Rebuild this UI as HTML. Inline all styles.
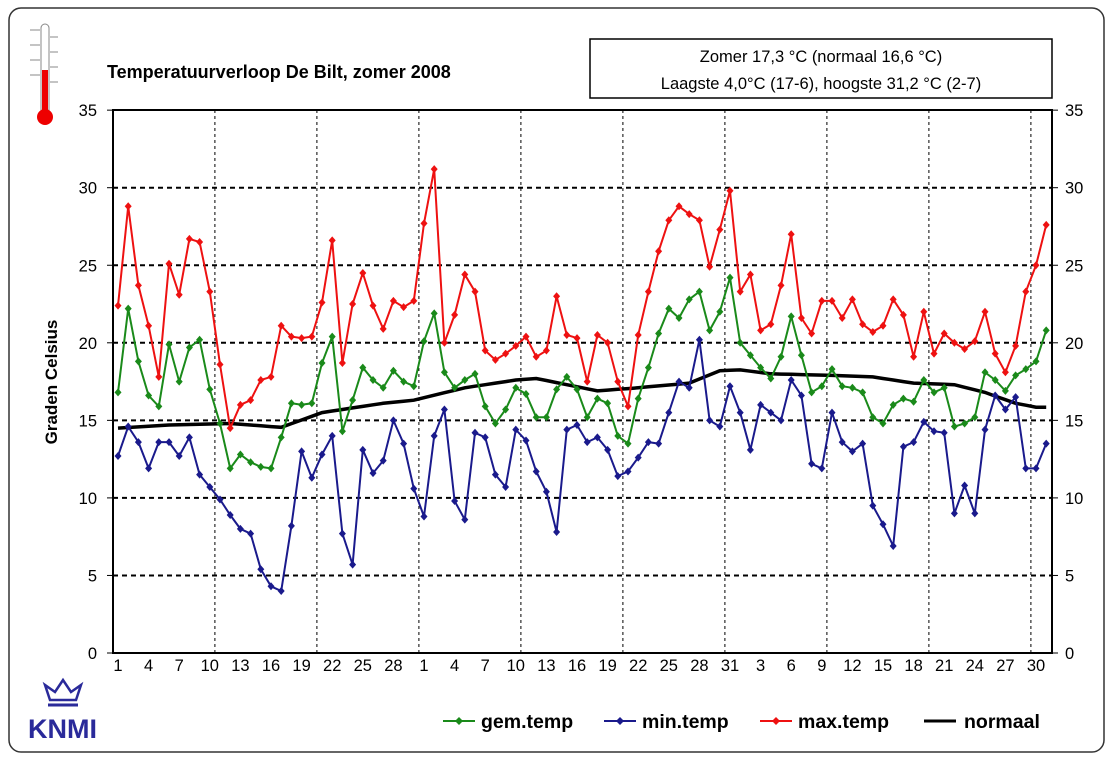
<!DOCTYPE html>
<html><head><meta charset="utf-8"><style>
html,body{margin:0;padding:0;background:#fff}
svg{display:block;font-family:"Liberation Sans",Arial,sans-serif}
</style></head><body>
<svg id="s" width="1113" height="760" xmlns="http://www.w3.org/2000/svg">
<rect x="9" y="8" width="1095" height="744" rx="12" fill="#fff" stroke="#333" stroke-width="1.5"/>
<g id="grid"></g>
<rect x="113" y="110" width="939" height="543" fill="none" stroke="#000" stroke-width="2"/>
<g id="series"></g>
<text x="107" y="78" font-size="18" font-weight="bold">Temperatuurverloop De Bilt, zomer 2008</text>
<rect x="590" y="39" width="462" height="59" fill="#fff" stroke="#000" stroke-width="1.5"/>
<text x="821" y="62" font-size="16.5" text-anchor="middle">Zomer 17,3 °C (normaal 16,6 °C)</text>
<text x="821" y="89" font-size="16.5" text-anchor="middle">Laagste 4,0°C (17-6), hoogste  31,2 °C (2-7)</text>
<text transform="translate(57,382) rotate(-90)" font-size="17" font-weight="bold" text-anchor="middle">Graden Celsius</text>
<!-- thermometer -->
<rect x="41" y="24" width="8" height="92" rx="4" fill="#fff" stroke="#888" stroke-width="1"/>
<rect x="42" y="70" width="6" height="45" fill="#e00"/>
<circle cx="45" cy="117" r="8" fill="#e00"/>
<g stroke="#888" stroke-width="1"><line x1="30" y1="30" x2="40" y2="30"/><line x1="30" y1="45" x2="40" y2="45"/><line x1="30" y1="60" x2="40" y2="60"/><line x1="30" y1="75" x2="40" y2="75"/><line x1="50" y1="37" x2="58" y2="37"/><line x1="50" y1="52" x2="58" y2="52"/><line x1="50" y1="67" x2="58" y2="67"/><line x1="50" y1="82" x2="58" y2="82"/></g>
<!-- KNMI logo -->
<g fill="#2a2a9a" stroke="#2a2a9a">
<path d="M50 700 L45 685 L55 692 L63 680 L71 692 L81 685 L76 700 Z" fill="none" stroke-width="2.5"/>
<line x1="48" y1="705" x2="78" y2="705" stroke-width="3"/>
</g>
<text x="28" y="738" font-size="27" font-weight="bold" fill="#2a2a9a" stroke="none">KNMI</text>
<!-- legend -->
<g font-size="19.5" font-weight="bold">
<line x1="443" y1="721" x2="475" y2="721" stroke="#1a8a1a" stroke-width="2"/><path d="M459 717 L463 721 L459 725 L455 721Z" fill="#1a8a1a"/>
<text x="481" y="728">gem.temp</text>
<line x1="604" y1="721" x2="636" y2="721" stroke="#1a1a8c" stroke-width="2"/><path d="M620 717 L624 721 L620 725 L616 721Z" fill="#1a1a8c"/>
<text x="642" y="728">min.temp</text>
<line x1="760" y1="721" x2="792" y2="721" stroke="#ee1111" stroke-width="2"/><path d="M776 717 L780 721 L776 725 L772 721Z" fill="#ee1111"/>
<text x="798" y="728">max.temp</text>
<line x1="924" y1="721" x2="956" y2="721" stroke="#000" stroke-width="3"/>
<text x="964" y="728">normaal</text>
</g>
</svg>
<script>
var NS="http://www.w3.org/2000/svg";
function el(p,t,a,txt){var e=document.createElementNS(NS,t);for(var k in a)e.setAttribute(k,a[k]);if(txt!==undefined)e.textContent=txt;p.appendChild(e);return e;}
function X(i){return 118+10.2*i;}
function Y(v){return 653-15.51*v;}
var g=document.getElementById('grid'),s=document.getElementById('series'),svg=document.getElementById('s');
for(var v=5;v<35;v+=5)el(g,'line',{x1:113,x2:1052,y1:Y(v),y2:Y(v),stroke:'#000','stroke-width':2,'stroke-dasharray':'5,4'});
for(var k=0;k<9;k++){var x=X(9.5+10*k);el(g,'line',{x1:x,x2:x,y1:110,y2:653,stroke:'#000','stroke-width':1,'stroke-dasharray':'3,3'});}
for(var v=0;v<=35;v+=5){el(svg,'text',{x:97,y:Y(v)+6,'font-size':16.5,'text-anchor':'end'},v);el(svg,'text',{x:1065,y:Y(v)+6,'font-size':16.5},v);
 el(svg,'line',{x1:107,x2:113,y1:Y(v),y2:Y(v),stroke:'#000'});el(svg,'line',{x1:1052,x2:1058,y1:Y(v),y2:Y(v),stroke:'#000'});}
var labs=[];for(var d=1;d<=30;d+=3)labs.push([d-1,d]);for(var d=1;d<=31;d+=3)labs.push([30+d-1,d]);for(var d=3;d<=31;d+=3)labs.push([61+d-1,d]);
labs.forEach(function(l){el(svg,'text',{x:X(l[0]),y:671,'font-size':16.5,'text-anchor':'middle'},l[1]);});
var mx=[22.4,28.8,23.7,21.1,17.8,25.1,23.1,26.7,26.5,23.3,18.6,14.5,16.0,16.3,17.6,17.8,21.1,20.4,20.3,20.4,22.6,26.6,18.7,22.5,24.5,22.4,20.9,22.7,22.3,22.7,
27.7,31.2,20.0,21.8,24.4,23.3,19.5,18.9,19.3,19.8,20.4,19.1,19.5,23.0,20.5,20.3,17.5,20.5,20.0,17.5,15.9,20.5,23.3,25.9,27.9,28.8,28.3,27.9,24.9,27.3,29.8,
23.3,24.4,20.8,21.2,23.7,27.0,21.6,20.6,22.7,22.7,21.6,22.8,21.2,20.7,21.1,22.8,21.8,19.1,22.0,19.3,20.6,20.0,19.6,20.1,22.0,19.3,18.1,19.8,23.3,25.0,27.6];
var gm=[16.8,22.2,18.8,16.6,15.9,19.9,17.5,19.7,20.2,17.0,14.8,11.9,12.8,12.3,12.0,11.9,13.9,16.1,16.0,16.1,18.7,20.4,14.3,16.3,18.4,17.6,17.1,18.2,17.5,17.2,
20.1,21.9,18.1,17.1,17.6,18.0,15.9,14.8,15.7,17.1,16.7,15.2,15.2,17.0,17.8,17.0,15.2,16.4,16.1,14.0,13.5,16.4,18.4,20.6,22.2,21.6,22.8,23.3,20.8,22.0,24.2,
20.0,19.2,18.4,17.7,19.1,21.7,19.2,16.8,17.2,18.3,17.2,17.1,16.8,15.2,14.8,16.0,16.4,16.2,17.6,16.8,17.1,14.6,14.8,15.2,18.1,17.6,16.9,17.9,18.3,18.8,20.8];
var mn=[12.7,14.6,13.6,11.9,13.6,13.6,12.7,13.9,11.5,10.7,9.9,8.9,8.0,7.7,5.4,4.3,4.0,8.2,13.0,11.3,12.8,14.0,7.7,5.7,13.1,11.6,12.4,15.0,13.5,10.6,
8.8,14.0,15.7,9.8,8.6,14.2,13.9,11.5,10.7,14.4,13.7,11.7,10.4,7.8,14.4,14.7,13.6,13.9,13.1,11.4,11.7,12.6,13.6,13.5,15.5,17.5,17.1,20.2,15.0,14.6,17.2,
15.5,13.1,16.0,15.5,15.0,17.6,16.6,12.2,11.9,15.5,13.6,13.0,13.5,9.5,8.3,6.9,13.3,13.6,14.9,14.3,14.2,9.0,10.8,9.0,14.4,16.6,15.7,16.5,11.9,11.9,13.5];
var nc=[[0,14.5],[5,14.7],[11,14.8],[16,14.55],[20,15.5],[26,16.1],[29,16.3],[34,17.1],[39,17.6],[41,17.7],[47,16.9],[51,17.1],[56,17.4],[59,18.2],[61,18.25],[64,18.0],[70,17.9],[74,17.8],[78,17.4],[82,17.3],[85,16.8],[88,16.1],[90,15.85],[91,15.85]];
function nv(i){for(var k=0;k<nc.length-1;k++){if(i>=nc[k][0]&&i<=nc[k+1][0]){var t=(i-nc[k][0])/(nc[k+1][0]-nc[k][0]);return nc[k][1]+t*(nc[k+1][1]-nc[k][1]);}}return 15.85;}
function series(d,c){var p=d.map(function(v,i){return X(i).toFixed(1)+','+Y(v).toFixed(1);}).join(' ');
 el(s,'polyline',{points:p,fill:'none',stroke:c,'stroke-width':2});
 d.forEach(function(v,i){var x=X(i),y=Y(v);el(s,'path',{d:'M'+x+' '+(y-4)+'L'+(x+3.5)+' '+y+'L'+x+' '+(y+4)+'L'+(x-3.5)+' '+y+'Z',fill:c});});}
var np=[];for(var i=0;i<92;i++)np.push(X(i).toFixed(1)+','+Y(nv(i)).toFixed(1));
el(s,'polyline',{points:np.join(' '),fill:'none',stroke:'#000','stroke-width':3.5});
series(mn,'#1a1a8c');series(gm,'#1a8a1a');series(mx,'#ee1111');
</script>
</body></html>
